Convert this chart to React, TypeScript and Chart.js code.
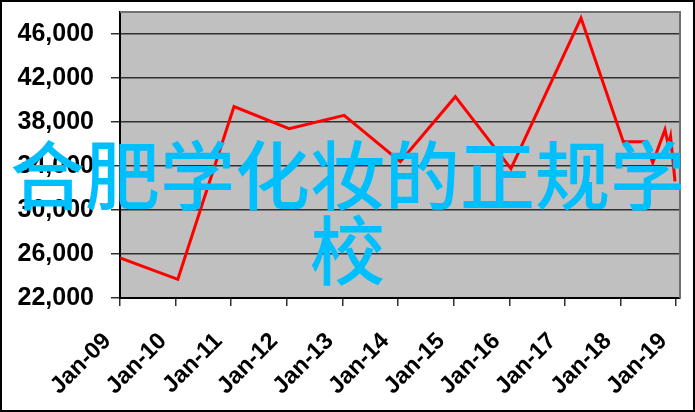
import React, { useEffect, useRef } from "react";
import { Chart, registerables } from "chart.js";

Chart.register(...registerables);

// X axis: years since Jan-09, labelled ticks
const tickYears = [0, 1, 2, 3, 4, 5, 6, 7, 8, 9, 10];
const tickLabels = [
  "Jan-09", "Jan-10", "Jan-11", "Jan-12", "Jan-13", "Jan-14",
  "Jan-15", "Jan-16", "Jan-17", "Jan-18", "Jan-19",
];

// Series (position in years since Jan-09, value)
const pointYears = [0, 1.04, 2.05, 3.04, 4.03, 5.04, 6.03, 7.03, 8.29, 9.05, 9.45, 9.58, 9.8, 9.86, 9.9, 9.98];
const pointValues = [25650, 23700, 39400, 37400, 38600, 34400, 40300, 33750, 47450, 36200, 36200, 34300, 37300, 35900, 36700, 32600];

// Y axis
const yTicks = [22000, 26000, 30000, 34000, 38000, 42000, 46000];
const yMin = 22000;
const yMax = 48000;
const xMin = 0;
const xMax = 10.07;

const overlayLines = ["合肥学化妆的正规学", "校"];

const fontFamily = "'Liberation Sans', Arial, sans-serif";
const yTickFont = { family: fontFamily, size: 25, weight: "bold" as const };
const xLabelFontPx = 23.5;

export default function App() {
  const ref = useRef<HTMLCanvasElement | null>(null);

  useEffect(() => {
    document.body.style.margin = "0";
    const canvas = ref.current;
    if (!canvas) return;

    const framePlugin = {
      id: "frame",
      beforeDraw(chart: any) {
        const { ctx, chartArea } = chart;
        ctx.save();
        ctx.fillStyle = "#ffffff";
        ctx.fillRect(0, 0, chart.width, chart.height);
        ctx.fillStyle = "#c0c0c0";
        ctx.fillRect(chartArea.left, chartArea.top, chartArea.right - chartArea.left, chartArea.bottom - chartArea.top);
        ctx.restore();
      },
      beforeDatasetsDraw(chart: any) {
        const { ctx, chartArea } = chart;
        ctx.save();
        ctx.strokeStyle = "#707070";
        ctx.lineWidth = 2;
        ctx.beginPath();
        ctx.moveTo(chartArea.left, chartArea.top);
        ctx.lineTo(chartArea.right, chartArea.top);
        ctx.lineTo(chartArea.right, chartArea.bottom);
        ctx.stroke();
        ctx.restore();
      },
      afterDraw(chart: any) {
        const { ctx, chartArea } = chart;
        const xScale = chart.scales.x;
        // rotated category labels, anchored at the end of their baseline
        ctx.save();
        ctx.fillStyle = "#000000";
        ctx.font = `bold ${xLabelFontPx}px ${fontFamily}`;
        ctx.textAlign = "right";
        ctx.textBaseline = "alphabetic";
        tickYears.forEach((v, i) => {
          const px = xScale.getPixelForValue(v);
          ctx.save();
          ctx.translate(px - 8, chartArea.bottom + 44);
          ctx.rotate(-Math.PI / 4);
          ctx.fillText(tickLabels[i], 0, 0);
          ctx.restore();
        });
        ctx.restore();

        ctx.save();
        ctx.strokeStyle = "#000000";
        ctx.lineWidth = 2;
        ctx.strokeRect(1, 1, chart.width - 2, chart.height - 2);
        ctx.restore();
      },
    };

    const chart = new Chart(canvas, {
      type: "line",
      data: {
        datasets: [
          {
            data: pointYears.map((x, i) => ({ x, y: pointValues[i] })),
            borderColor: "#ff0000",
            borderWidth: 3,
            pointRadius: 0,
            tension: 0,
            fill: false,
          },
        ],
      },
      options: {
        animation: false,
        responsive: false,
        maintainAspectRatio: false,
        devicePixelRatio: 1,
        layout: { padding: { top: 12, right: 15, left: 0, bottom: 0 } },
        plugins: { legend: { display: false }, tooltip: { enabled: false } },
        scales: {
          x: {
            type: "linear",
            min: xMin,
            max: xMax,
            afterBuildTicks(scale: any) {
              scale.ticks = tickYears.map((v) => ({ value: v }));
            },
            afterFit(scale: any) {
              scale.height = 114;
              scale.paddingLeft = 0;
              scale.paddingRight = 0;
            },
            ticks: {
              display: false,
              autoSkip: false,
              callback: (value: any) => tickLabels[tickYears.indexOf(Number(value))] ?? "",
            },
            grid: {
              drawOnChartArea: false,
              drawTicks: true,
              tickLength: 8,
              color: "#303030",
              lineWidth: 1.5,
            },
            border: { display: true, color: "#000", width: 2 },
          },
          y: {
            type: "linear",
            min: yMin,
            max: yMax,
            afterBuildTicks(scale: any) {
              scale.ticks = yTicks.map((v) => ({ value: v }));
            },
            afterFit(scale: any) {
              scale.width = 120;
              scale.paddingTop = 0;
              scale.paddingBottom = 0;
            },
            ticks: {
              padding: 17,
              color: "#000",
              font: yTickFont,
              callback: (value: any) => Number(value).toLocaleString("en-US"),
            },
            grid: {
              drawOnChartArea: true,
              drawTicks: true,
              tickLength: 9,
              color: "#303030",
              lineWidth: 1.5,
            },
            border: { display: true, color: "#000", width: 2 },
          },
        },
      },
      plugins: [framePlugin],
    });

    return () => chart.destroy();
  }, []);

  return (
    <div style={{ position: "absolute", left: 0, top: 0, width: 695, height: 412, overflow: "hidden" }}>
      <canvas ref={ref} width={695} height={412} style={{ display: "block", width: 695, height: 412 }} />
      <div
        style={{
          position: "absolute",
          left: 0,
          top: 134,
          width: 695,
          textAlign: "center",
          fontFamily: "'Noto Sans CJK SC', sans-serif",
          fontWeight: 500,
          fontSize: 75,
          lineHeight: "75px",
          color: "#00bfff",
          whiteSpace: "nowrap",
          pointerEvents: "none",
        }}
      >
        {overlayLines.map((line, i) => (
          <div key={i}>{line}</div>
        ))}
      </div>
    </div>
  );
}
